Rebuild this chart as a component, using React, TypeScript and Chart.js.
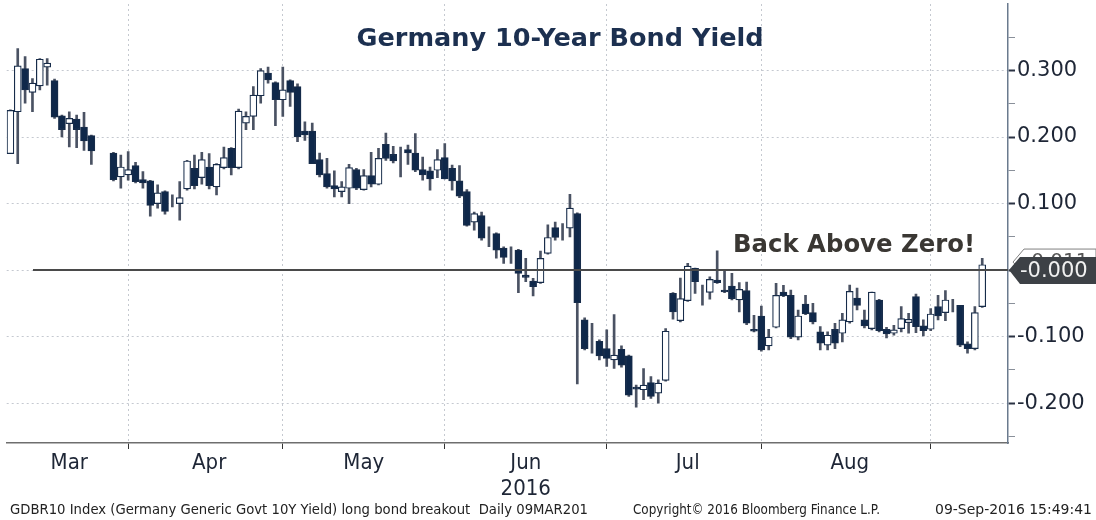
import React, { useEffect, useRef } from "react";
import { Chart, registerables } from "chart.js";

Chart.register(...registerables);

// ---- categories: trading weekdays, 09-Mar-2016 .. 09-Sep-2016 ----
const MONTHS = ["Mar", "Apr", "May", "Jun", "Jul", "Aug", "Sep"];
const DAYS = [
  [9, 10, 11, 14, 15, 16, 17, 18, 21, 22, 23, 24, 25, 28, 29, 30, 31],
  [1, 4, 5, 6, 7, 8, 11, 12, 13, 14, 15, 18, 19, 20, 21, 22, 25, 26, 27, 28, 29],
  [2, 3, 4, 5, 6, 9, 10, 11, 12, 13, 16, 17, 18, 19, 20, 23, 24, 25, 26, 27, 30, 31],
  [1, 2, 3, 6, 7, 8, 9, 10, 13, 14, 15, 16, 17, 20, 21, 22, 23, 24, 27, 28, 29, 30],
  [1, 4, 5, 6, 7, 8, 11, 12, 13, 14, 15, 18, 19, 20, 21, 22, 25, 26, 27, 28, 29],
  [1, 2, 3, 4, 5, 8, 9, 10, 11, 12, 15, 16, 17, 18, 19, 22, 23, 24, 25, 26, 29, 30, 31],
  [1, 2, 5, 6, 7, 8, 9],
];
const PAD_LABELS = ["", "", ""];
const MONTH_TICK_LABELS: (string | string[])[] = ["Mar", "Apr", "May", ["Jun", "2016"], "Jul", "Aug"];

// ---- series (GDBR10 yield, %) ----
const OPEN = [
  0.175, 0.238, 0.303, 0.267, 0.277, 0.305, 0.285, 0.232, 0.22, 0.227, 0.215, 0.202, null, null, 0.176, 0.14, 0.143,
  0.157, 0.136, 0.134, 0.1, 0.118, null, 0.1, 0.122, 0.153, 0.139, 0.155, 0.125, 0.154, 0.183, 0.154, 0.221, 0.231, 0.262, 0.296, 0.282, 0.256,
  0.285, 0.276, 0.209, 0.209, 0.166, 0.145, 0.127, 0.118, 0.123, 0.151, 0.121, 0.142, 0.129, 0.189, 0.174, null, 0.181, 0.176, 0.151, 0.149, 0.15, 0.169,
  0.153, 0.134, 0.118, 0.072, 0.082, null, 0.055, 0.033, null, 0.03, -0.0075, -0.0165, -0.019, 0.025, 0.064, null, 0.063, 0.085, -0.075, null, -0.107, -0.118,
  -0.135, -0.119, -0.129, -0.176, -0.18, -0.169, -0.185, -0.166, -0.035, -0.076, -0.046, 0.0025, null, -0.0335, -0.015, -0.03, -0.024, -0.045, -0.031, -0.089, -0.069,
  -0.114, -0.086, -0.033, -0.038, -0.101, -0.051, -0.064, -0.093, -0.113, -0.089, -0.095, -0.078, -0.042, -0.075, -0.088, -0.045, -0.089, -0.095, -0.088, -0.079, -0.04, -0.084, -0.089,
  -0.055, -0.064, null, -0.053, -0.111, -0.118, -0.055,
];
const HIGH = [
  0.241, 0.333, 0.321, 0.288, 0.318, 0.318, 0.287, 0.233, 0.238, 0.233, 0.237, 0.203, null, null, 0.177, 0.173, 0.178,
  0.162, 0.148, 0.135, 0.128, 0.119, 0.113, 0.133, 0.165, 0.173, 0.177, 0.175, 0.16, 0.185, 0.184, 0.242, 0.238, 0.276, 0.303, 0.305, 0.283, 0.305,
  0.286, 0.28, 0.223, 0.221, 0.176, 0.168, 0.149, 0.133, 0.159, 0.153, 0.151, 0.177, 0.183, 0.206, 0.186, 0.185, 0.188, 0.205, 0.17, 0.155, 0.181, 0.19,
  0.158, 0.157, 0.121, 0.087, 0.087, 0.065, 0.056, 0.035, 0.035, 0.031, 0.0175, -0.0125, 0.0285, 0.068, 0.072, 0.07, 0.114, 0.086, -0.072, -0.08, -0.105, -0.09,
  -0.067, -0.114, -0.128, -0.173, -0.148, -0.16, -0.165, -0.088, -0.034, -0.012, 0.01, 0.003, -0.0225, -0.01, 0.029, -0.001, -0.005, -0.019, -0.018, -0.068, -0.054,
  -0.089, -0.02, -0.023, -0.03, -0.06, -0.038, -0.05, -0.085, -0.093, -0.08, -0.065, -0.0226, -0.027, -0.06, -0.033, -0.044, -0.086, -0.083, -0.055, -0.065, -0.036, -0.075, -0.058,
  -0.038, -0.031, -0.044, -0.053, -0.108, -0.055, 0.0175,
];
const LOW = [
  0.175, 0.16, 0.251, 0.238, 0.271, 0.278, 0.228, 0.2, 0.185, 0.184, 0.18, 0.159, null, null, 0.134, 0.123, 0.135,
  0.131, 0.123, 0.081, 0.093, 0.084, 0.095, 0.075, 0.12, 0.122, 0.129, 0.122, 0.113, 0.152, 0.143, 0.152, 0.211, 0.211, 0.251, 0.281, 0.217, 0.231,
  0.246, 0.193, 0.195, 0.16, 0.14, 0.123, 0.11, 0.11, 0.1, 0.121, 0.12, 0.125, 0.128, 0.165, 0.161, 0.14, 0.159, 0.148, 0.135, 0.12, 0.139, 0.137,
  0.12, 0.109, 0.066, 0.06, 0.045, 0.035, 0.018, 0.01, 0.01, -0.034, -0.0175, -0.039, -0.02, 0.024, 0.045, 0.045, 0.05, -0.171, -0.12, -0.125, -0.135, -0.145,
  -0.148, -0.146, -0.19, -0.206, -0.195, -0.193, -0.2, -0.167, -0.074, -0.078, -0.047, -0.035, -0.0526, -0.0436, -0.02, -0.034, -0.045, -0.063, -0.082, -0.093, -0.122,
  -0.12, -0.087, -0.04, -0.103, -0.105, -0.067, -0.081, -0.12, -0.12, -0.118, -0.108, -0.08, -0.06, -0.087, -0.09, -0.093, -0.102, -0.098, -0.093, -0.095, -0.094, -0.099, -0.091,
  -0.075, -0.076, -0.063, -0.115, -0.125, -0.12, -0.056,
];
const CLOSE = [
  0.24, 0.307, 0.271, 0.281, 0.317, 0.311, 0.23, 0.211, 0.228, 0.211, 0.194, 0.179, null, null, 0.136, 0.155, 0.151,
  0.133, 0.131, 0.097, 0.116, 0.088, null, 0.109, 0.164, 0.127, 0.166, 0.127, 0.159, 0.169, 0.154, 0.239, 0.231, 0.263, 0.3, 0.286, 0.256, 0.271,
  0.267, 0.2, 0.203, 0.16, 0.143, 0.125, 0.122, 0.125, 0.154, 0.123, 0.142, 0.129, 0.168, 0.168, 0.164, null, 0.176, 0.15, 0.143, 0.137, 0.166, 0.137,
  0.134, 0.111, 0.067, 0.085, 0.048, null, 0.03, 0.019, null, -0.005, -0.011, -0.025, 0.0175, 0.049, 0.049, null, 0.093, -0.049, -0.118, null, -0.129, -0.133,
  -0.128, -0.143, -0.188, -0.179, -0.173, -0.19, -0.17, -0.092, -0.063, -0.043, 0.006, -0.0175, null, -0.014, -0.019, -0.033, -0.043, -0.029, -0.08, -0.092, -0.12,
  -0.101, -0.038, -0.039, -0.101, -0.069, -0.066, -0.078, -0.11, -0.098, -0.11, -0.075, -0.032, -0.053, -0.084, -0.033, -0.091, -0.096, -0.09, -0.073, -0.074, -0.085, -0.091, -0.066,
  -0.069, -0.045, null, -0.113, -0.118, -0.064, 0.008,
];

// ---- y-axis tick values ----
const Y_TICKS = [-0.25, -0.2, -0.15, -0.1, -0.05, 0, 0.05, 0.1, 0.15, 0.2, 0.25, 0.3, 0.35];
const LAST_VALUE_LABEL = "-0.000";
const PREV_VALUE_LABEL = "-0.011";

const TITLE = "Germany 10-Year Bond Yield";
const NOTE = "Back Above Zero!";
const FOOT_LEFT = "GDBR10 Index (Germany Generic Govt 10Y Yield) long bond breakout  Daily 09MAR201";
const FOOT_MID = "Copyright\u00A9 2016 Bloomberg Finance L.P.";
const FOOT_RIGHT = "09-Sep-2016 15:49:41";

const NAVY = "#0f284a";
const FONT = '"DejaVu Sans", Verdana, sans-serif';
const NARROW = '"DejaVu Sans Condensed", "Liberation Sans Narrow", "DejaVu Sans", sans-serif';

// derived structures
const dayLabels: string[] = [];
const dayMonth: number[] = [];
DAYS.forEach((list, m) => list.forEach((d) => { dayLabels.push(d + "-" + MONTHS[m]); dayMonth.push(m); }));
const labels = [...dayLabels, ...PAD_LABELS];
const monthEnd = new Set<number>();
for (let i = 0; i < dayMonth.length - 1; i++) if (dayMonth[i + 1] !== dayMonth[i]) monthEnd.add(i);
const tickLabelAt = new Map<number, string | string[]>();
MONTH_TICK_LABELS.forEach((lab, m) => {
  const idx = dayMonth.map((mm, i) => (mm === m ? i : -1)).filter((i) => i >= 0);
  tickLabelAt.set(Math.floor((idx[0] + idx[idx.length - 1]) / 2), lab);
});
const isMajor = (v: number) => Math.abs(v * 10 - Math.round(v * 10)) < 1e-6;
const isLabelled = (v: number) => isMajor(v) && Math.abs(v) > 1e-6;

function fitText(ctx: CanvasRenderingContext2D, text: string, x: number, y: number, width: number, align: string) {
  const w = ctx.measureText(text).width;
  const s = width / w;
  ctx.save();
  const left = align === "right" ? x - width : align === "center" ? x - width / 2 : x;
  ctx.translate(left, y);
  ctx.scale(s, 1);
  ctx.textAlign = "left";
  ctx.fillText(text, 0, 0);
  ctx.restore();
}

const decor = {
  id: "decor",
  afterDatasetsDraw(chart: any) {
    const { ctx, chartArea, scales } = chart;
    const y0 = scales.y.getPixelForValue(0);
    ctx.save();
    ctx.strokeStyle = "#4a4a4a";
    ctx.lineWidth = 2;
    ctx.beginPath();
    ctx.moveTo(33, y0);
    ctx.lineTo(chartArea.right, y0);
    ctx.stroke();
    ctx.restore();
  },
  afterDraw(chart: any) {
    const { ctx, scales } = chart;
    const y0 = scales.y.getPixelForValue(0);
    ctx.save();
    ctx.textBaseline = "alphabetic";
    // title
    ctx.fillStyle = "#1c3050";
    ctx.font = "bold 25px " + FONT;
    fitText(ctx, TITLE, 560, 46, 407, "center");
    // note
    ctx.fillStyle = "#3a3733";
    ctx.font = "bold 25px " + FONT;
    fitText(ctx, NOTE, 733, 252, 242, "left");
    // footer
    ctx.fillStyle = "#222";
    ctx.font = "14px " + FONT;
    fitText(ctx, FOOT_LEFT, 10, 514, 578, "left");
    fitText(ctx, FOOT_MID, 633, 514, 247, "left");
    fitText(ctx, FOOT_RIGHT, 1092, 514, 157, "right");
    // back price tag
    ctx.beginPath();
    ctx.moveTo(1013, y0 - 8);
    ctx.lineTo(1024, y0 - 21);
    ctx.lineTo(1096, y0 - 21);
    ctx.lineTo(1096, y0 + 4);
    ctx.lineTo(1024, y0 + 4);
    ctx.closePath();
    ctx.fillStyle = "#ffffff";
    ctx.fill();
    ctx.strokeStyle = "#808080";
    ctx.lineWidth = 1;
    ctx.stroke();
    ctx.fillStyle = "#555";
    ctx.font = "20px " + FONT;
    ctx.textBaseline = "middle";
    ctx.fillText(PREV_VALUE_LABEL, 1024, y0 - 8);
    // front price tag
    ctx.beginPath();
    ctx.moveTo(1009, y0);
    ctx.lineTo(1020, y0 - 13);
    ctx.lineTo(1096, y0 - 13);
    ctx.lineTo(1096, y0 + 14);
    ctx.lineTo(1020, y0 + 14);
    ctx.closePath();
    ctx.fillStyle = "#3d4146";
    ctx.fill();
    ctx.fillStyle = "#f0f0f0";
    ctx.font = "21px " + FONT;
    ctx.fillText(LAST_VALUE_LABEL, 1020, y0 + 1);
    ctx.restore();
  },
};

export default function App() {
  const ref = useRef<HTMLCanvasElement | null>(null);
  useEffect(() => {
    if (!ref.current) return;
    const n = OPEN.length;
    const bodies: any[] = [];
    const wicks: any[] = [];
    const fills: string[] = [];
    for (let i = 0; i < n; i++) {
      const o = OPEN[i], c = CLOSE[i], h = HIGH[i], l = LOW[i];
      wicks.push(h == null || l == null ? null : [l, h]);
      if (o == null || c == null) { bodies.push(null); fills.push("#fff"); }
      else { bodies.push([Math.min(o, c), Math.max(o, c)]); fills.push(c >= o ? "#ffffff" : NAVY); }
    }
    const chart = new Chart(ref.current, {
      type: "bar",
      data: {
        labels,
        datasets: [
          { label: "wick", data: wicks as any, backgroundColor: "#4a5263", barThickness: 2, grouped: false, order: 2 } as any,
          { label: "body", data: bodies as any, backgroundColor: fills, borderColor: "#172c4a", borderWidth: 1.2, borderSkipped: false, barThickness: 7, grouped: false, order: 1 } as any,
        ],
      },
      options: {
        responsive: false,
        devicePixelRatio: 1,
        animation: false,
        layout: { padding: { left: 6.7, top: 4, right: 0, bottom: 0 } },
        plugins: { legend: { display: false }, tooltip: { enabled: false } },
        scales: {
          x: {
            type: "category",
            offset: true,
            afterFit: (axis: any) => { axis.height = 77; },
            grid: {
              offset: false,
              color: (c: any) => (monthEnd.has(c.index) ? "#c5c9d0" : "rgba(0,0,0,0)"),
              tickColor: (c: any) => (monthEnd.has(c.index) ? "#333" : "rgba(0,0,0,0)"),
              tickLength: 6,
              tickBorderDash: [],
              lineWidth: 1,
            },
            border: { display: true, color: "#6e6e6e", width: 1.5, dash: [2, 3] },
            ticks: {
              autoSkip: false,
              maxRotation: 0,
              minRotation: 0,
              padding: 1,
              color: "#1e2636",
              font: { family: NARROW, size: 22 },
              callback: (_v: any, i: number) => (tickLabelAt.has(i) ? (tickLabelAt.get(i) as any) : ""),
            },
          },
          y: {
            type: "linear",
            position: "right",
            min: -0.26,
            max: 0.4,
            afterFit: (axis: any) => { axis.width = 88; },
            afterBuildTicks: (axis: any) => { axis.ticks = Y_TICKS.map((v) => ({ value: v })); },
            grid: {
              color: (c: any) => (c.tick && isMajor(c.tick.value) ? "#c5c9d0" : "rgba(0,0,0,0)"),
              tickColor: (c: any) => (c.tick && isMajor(c.tick.value) ? "#2b3344" : "#8a909a"),
              tickLength: 7,
              tickBorderDash: [],
              lineWidth: 1,
              tickWidth: (c: any) => (c.tick && isMajor(c.tick.value) ? 2 : 1),
            },
            border: { display: true, color: "#6a7a8e", width: 1.5, dash: [2, 3] },
            ticks: {
              padding: 2,
              color: "#1e2636",
              font: (c: any) => ({ family: FONT, size: c.tick && isLabelled(c.tick.value) ? 21 : 2 }),
              callback: (v: any) => (isLabelled(v) ? Number(v).toFixed(3) : ""),
            },
          },
        },
      },
      plugins: [decor],
    });
    return () => chart.destroy();
  }, []);
  return (
    <div style={{ position: "fixed", left: 0, top: 0, width: 1096, height: 520, background: "#fff" }}>
      <canvas ref={ref} width={1096} height={520} style={{ display: "block", width: 1096, height: 520 }} />
    </div>
  );
}
